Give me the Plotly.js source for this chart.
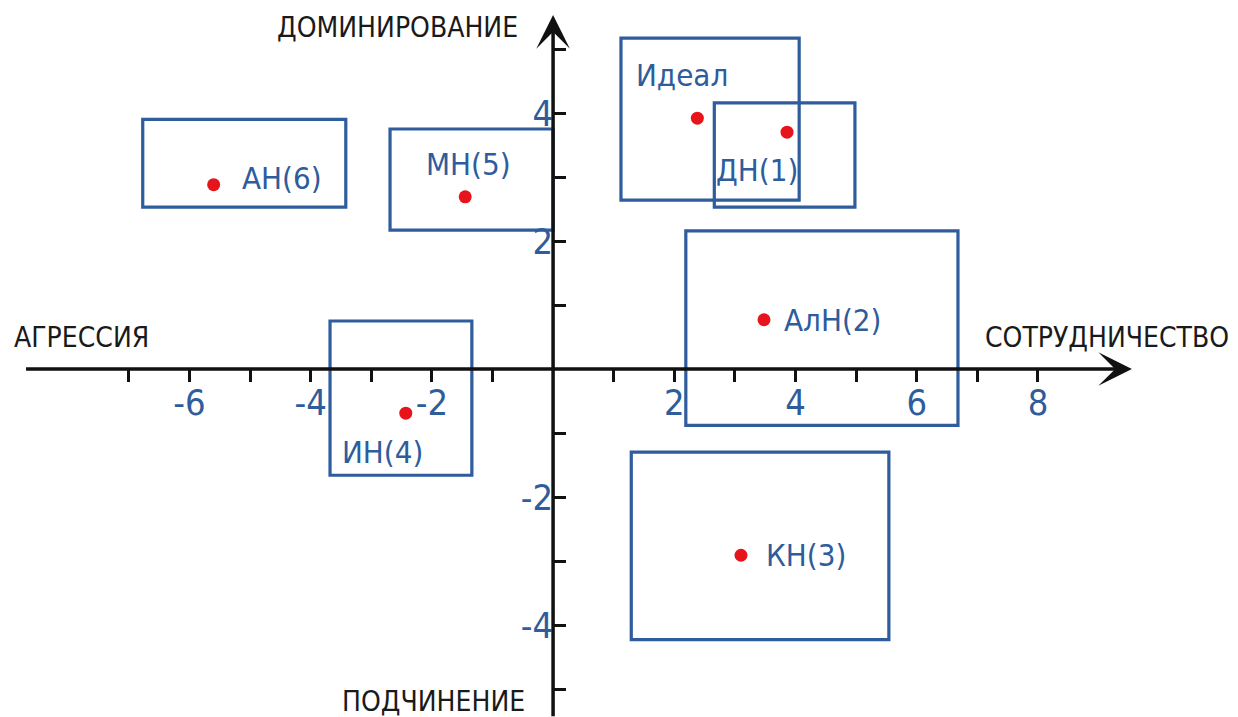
<!DOCTYPE html>
<html>
<head>
<meta charset="utf-8">
<script src="https://cdn.plot.ly/plotly-3.0.1.min.js"></script>
<style>
  html, body { margin: 0; padding: 0; background: #fff; }
  #grafica { width: 1238px; height: 717px; }
</style>
</head>
<body>
<div id="grafica"></div>
<script>
// Стили переговоров: точка и зона каждого стиля
var nombres = ['ДН(1)', 'АлН(2)', 'КН(3)', 'ИН(4)', 'МН(5)', 'АН(6)', 'Идеал'];
var puntoX = [3.86, 3.48, 3.10, -2.43, -1.45, -5.60, 2.38];
var puntoY = [3.70, 0.77, -2.91, -0.69, 2.69, 2.88, 3.92];
var zonaX0 = [2.66, 2.19, 1.29, -3.68, -2.69, -6.77, 1.12];
var zonaX1 = [4.98, 6.68, 5.54, -1.34, 0.00, -3.42, 4.06];
var zonaY0 = [2.53, -0.88, -4.23, -1.66, 2.17, 2.53, 2.64];
var zonaY1 = [4.16, 2.16, -1.30, 0.75, 3.75, 3.90, 5.17];

var ticksX = [-7, -6, -5, -4, -3, -2, -1, 1, 2, 3, 4, 5, 6, 7, 8];
var etiquetasX = ['', '-6', '', '-4', '', '-2', '', '', '2', '', '4', '', '6', '', '8'];
var ticksY = [-5, -4, -3, -2, -1, 1, 2, 3, 4, 5];
var etiquetasY = ['', '-4', '', '-2', '', '', '2', '', '4', ''];

var ejes = { izquierda: 'АГРЕССИЯ', derecha: 'СОТРУДНИЧЕСТВО', arriba: 'ДОМИНИРОВАНИЕ', abajo: 'ПОДЧИНЕНИЕ' };

// colocación de las etiquetas respecto al punto (px)
var colocacion = [
  { anchor: 'center', dx: -30, dy: -38 },
  { anchor: 'left', dx: 18, dy: 0 },
  { anchor: 'left', dx: 23, dy: 0 },
  { anchor: 'center', dx: -23, dy: -39 },
  { anchor: 'center', dx: 3, dy: 33 },
  { anchor: 'left', dx: 26, dy: 7 },
  { anchor: 'center', dx: -15, dy: 43 }
];

var rangoX = [-9.125, 11.30];
var rangoY = [-5.4375, 5.766];
var extremoX = [-8.72, 9.55];
var extremoY = [-5.45, 5.53];

var azul = '#2e5c9c';
var fuente = '"DejaVu Sans Condensed", "Liberation Sans Narrow", "Arial Narrow", sans-serif';

var formas = nombres.map(function(n, i) {
  return {
    type: 'rect', xref: 'x', yref: 'y',
    x0: zonaX0[i], x1: zonaX1[i], y0: zonaY0[i], y1: zonaY1[i],
    line: { color: azul, width: 3.2 }, fillcolor: 'rgba(0,0,0,0)'
  };
});

var notas = nombres.map(function(n, i) {
  var c = colocacion[i];
  return {
    x: puntoX[i], y: puntoY[i], xref: 'x', yref: 'y', text: n, showarrow: false,
    xanchor: c.anchor, yanchor: 'middle', xshift: c.dx, yshift: c.dy,
    font: { family: fuente, size: 31, color: azul }
  };
});

// ejes con flecha
notas.push({
  x: extremoX[1], y: 0, ax: extremoX[0], ay: 0, xref: 'x', yref: 'y', axref: 'x', ayref: 'y',
  text: '', showarrow: true, arrowhead: 3, arrowsize: 1.6, arrowwidth: 3.5, arrowcolor: '#111'
});
notas.push({
  x: 0, y: extremoY[1], ax: 0, ay: extremoY[0], xref: 'x', yref: 'y', axref: 'x', ayref: 'y',
  text: '', showarrow: true, arrowhead: 3, arrowsize: 1.6, arrowwidth: 3.5, arrowcolor: '#111'
});

var fuenteEje = { family: fuente, size: 28, color: '#1a1a1a' };
notas.push({ x: -8.93, y: 0.5, xref: 'x', yref: 'y', text: ejes.izquierda, showarrow: false, xanchor: 'left', yanchor: 'middle', font: fuenteEje });
notas.push({ x: 7.10, y: 0.5, xref: 'x', yref: 'y', text: ejes.derecha, showarrow: false, xanchor: 'left', yanchor: 'middle', font: fuenteEje });
notas.push({ x: -0.54, y: 5.33, xref: 'x', yref: 'y', text: ejes.arriba, showarrow: false, xanchor: 'right', yanchor: 'middle', font: fuenteEje });
notas.push({ x: -0.43, y: -5.2, xref: 'x', yref: 'y', text: ejes.abajo, showarrow: false, xanchor: 'right', yanchor: 'middle', font: fuenteEje });

var puntos = {
  x: puntoX, y: puntoY, type: 'scatter', mode: 'markers',
  marker: { color: '#e8141c', size: 13 }, hoverinfo: 'skip', cliponaxis: false
};

var layout = {
  width: 1238, height: 717,
  margin: { l: 0, r: 0, t: 0, b: 0 },
  paper_bgcolor: '#fff', plot_bgcolor: '#fff',
  showlegend: false,
  xaxis: {
    range: rangoX, anchor: 'free', position: (0 - rangoY[0]) / (rangoY[1] - rangoY[0]),
    showgrid: false, zeroline: false, showline: false, automargin: false,
    tickmode: 'array', tickvals: ticksX, ticktext: etiquetasX,
    ticks: 'outside', ticklen: 12, tickwidth: 3, tickcolor: '#111',
    ticklabelstandoff: -10,
    tickfont: { family: fuente, size: 36, color: azul }, fixedrange: true
  },
  yaxis: {
    range: rangoY, anchor: 'free', position: (0 - rangoX[0]) / (rangoX[1] - rangoX[0]),
    showgrid: false, zeroline: false, showline: false, automargin: false,
    tickmode: 'array', tickvals: ticksY, ticktext: etiquetasY,
    ticks: 'inside', ticklen: 12, tickwidth: 3, tickcolor: '#111',
    tickfont: { family: fuente, size: 36, color: azul }, fixedrange: true
  },
  shapes: formas,
  annotations: notas
};

Plotly.newPlot('grafica', [puntos], layout, { displayModeBar: false, staticPlot: true });
</script>
</body>
</html>
